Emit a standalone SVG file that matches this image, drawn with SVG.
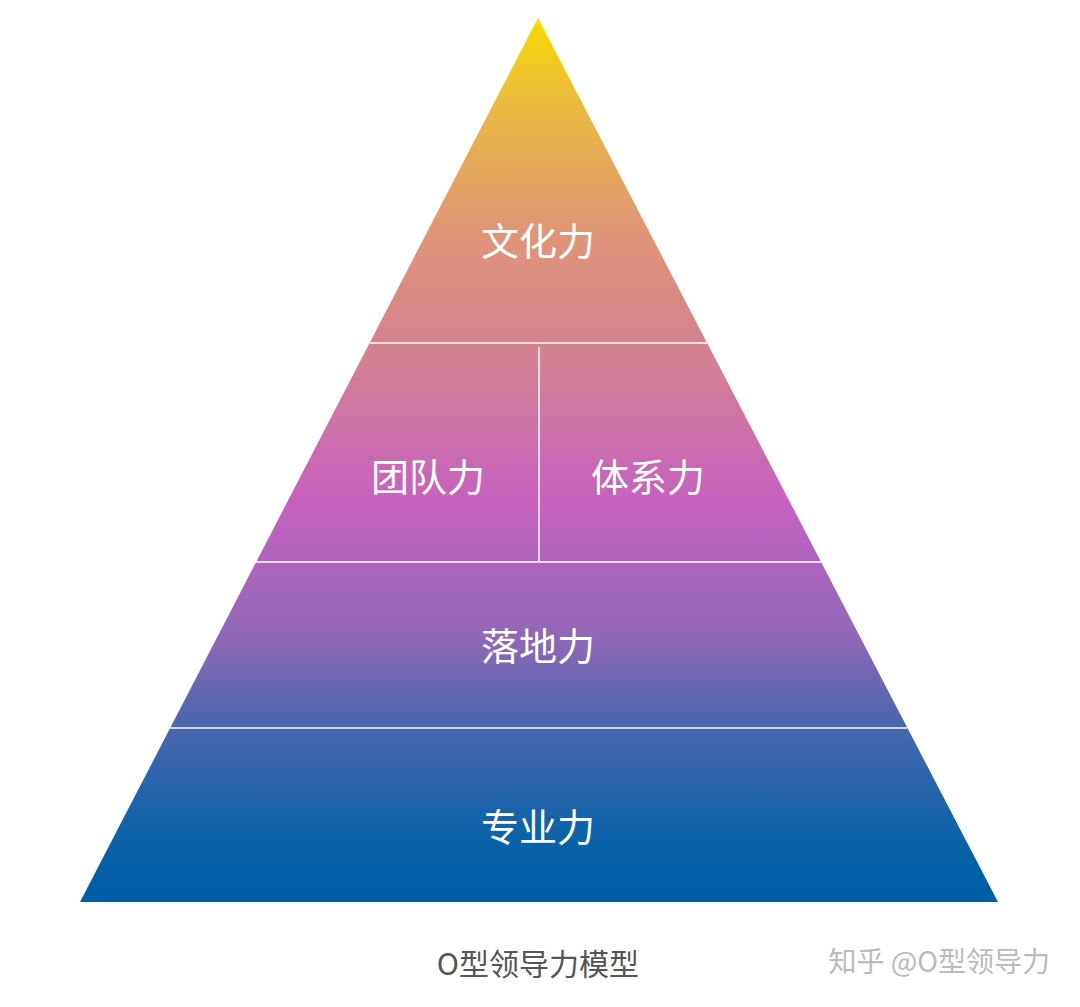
<svg xmlns="http://www.w3.org/2000/svg" width="1080" height="1007" viewBox="0 0 1080 1007">
<style>
.l{font-family:"Noto Sans CJK SC","Liberation Sans",sans-serif;font-size:38px;fill:#fff;text-anchor:middle}
.s{stroke:#fff;stroke-width:1.5}
</style>
<defs>
<linearGradient id="g" x1="0" y1="18" x2="0" y2="902" gradientUnits="userSpaceOnUse">
<stop offset="0" stop-color="#f8dc00"/>
<stop offset="0.1" stop-color="#eab840"/>
<stop offset="0.25" stop-color="#df9478"/>
<stop offset="0.4" stop-color="#d27e96"/>
<stop offset="0.55" stop-color="#c660c0"/>
<stop offset="0.7" stop-color="#9068b8"/>
<stop offset="0.8" stop-color="#4a66ae"/>
<stop offset="0.93" stop-color="#0a62a8"/>
<stop offset="1" stop-color="#005ea6"/>
</linearGradient>
</defs>
<rect width="1080" height="1007" fill="#fff"/>
<g id="pyramid"><polygon points="538,18 998,902 80,902" fill="url(#g)"/></g>
<g id="connectors">
<line class="s" x1="370" y1="343" x2="707" y2="343"/>
<line class="s" x1="256" y1="562" x2="821" y2="562"/>
<line class="s" x1="170" y1="728" x2="907" y2="728"/>
<line class="s" x1="539" y1="347" x2="539" y2="562"/>
</g>
<g id="n1"><text class="l" x="538" y="255">文化力</text></g>
<g id="n2"><text class="l" x="428" y="491">团队力</text></g>
<g id="n3"><text class="l" x="648" y="491">体系力</text></g>
<g id="n4"><text class="l" x="538" y="660">落地力</text></g>
<g id="n5"><text class="l" x="538" y="841">专业力</text></g>
<text x="538" y="975" font-family="Noto Sans CJK SC,Liberation Sans,sans-serif" font-size="30" fill="#555" text-anchor="middle">O型领导力模型</text>
<text x="1050" y="972" font-family="Noto Sans CJK SC,Liberation Sans,sans-serif" font-size="28" fill="#bbb" text-anchor="end">知乎 @O型领导力</text>
</svg>
